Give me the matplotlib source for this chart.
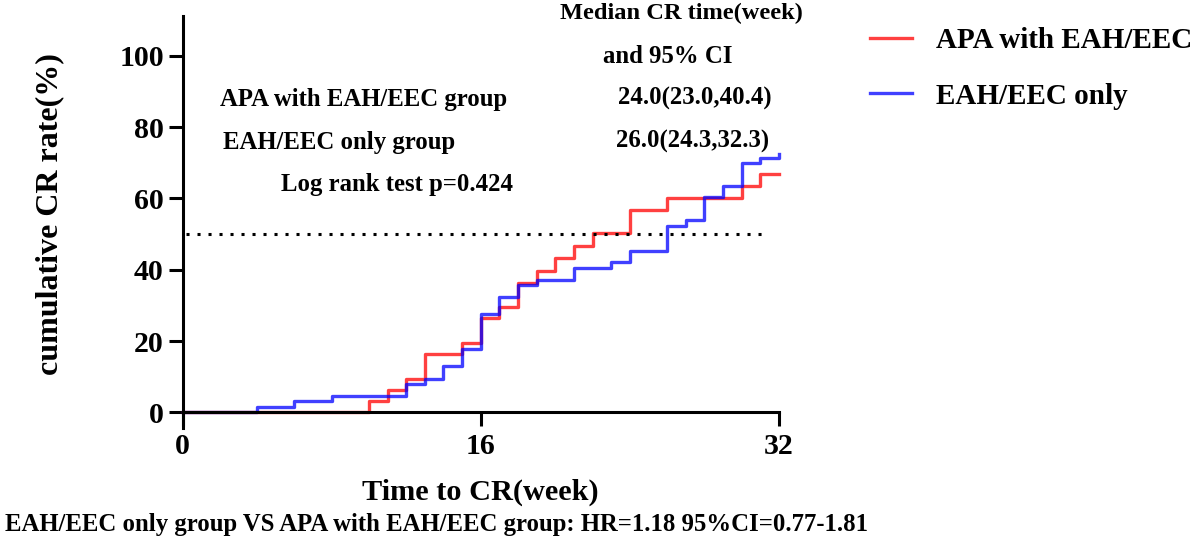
import matplotlib
matplotlib.use('Agg')
import matplotlib.pyplot as plt

plt.rcParams['font.family'] = ['Liberation Serif', 'DejaVu Serif']
plt.rcParams['font.weight'] = 'bold'

# (week, cumulative CR %)
apa_weeks = [0, 10, 11, 12, 13, 15, 16, 17, 18, 19, 20, 21, 22, 24, 26, 30, 31, 32]
apa_rate = [0, 3.2, 6.3, 9.3, 16.3, 19.5, 26.4, 29.6, 36.2, 39.7, 43.2, 46.6,
            50.2, 56.7, 60.0, 63.5, 67.0, 67.0]

only_weeks = [0, 4, 6, 8, 12, 13, 14, 15, 16, 17, 18, 19, 21, 23, 24, 26, 27,
              28, 29, 30, 31, 32]
only_rate = [0, 1.5, 3.1, 4.7, 7.9, 9.3, 13.0, 17.7, 27.6, 32.4, 35.7, 37.1,
             40.6, 42.2, 45.2, 52.3, 53.9, 60.3, 63.6, 70.0, 71.3, 72.6]

median_level = 50
median_span = (0.2, 31.4)

x_ticks = [0, 16, 32]
y_ticks = [0, 20, 40, 60, 80, 100]

W, H = 1197, 541
fig = plt.figure(figsize=(W / 100, H / 100), dpi=100)
ax = fig.add_axes([182.5 / W, (H - 428) / H, (779 - 182.5) / W, (428 - 16) / H])

ax.plot(apa_weeks, apa_rate, drawstyle='steps-post', color='#FF0000', alpha=0.75,
        lw=2.4, label='APA with EAH/EEC', clip_on=False)
ax.plot(only_weeks, only_rate, drawstyle='steps-post', color='#0000FF', alpha=0.75,
        lw=2.4, label='EAH/EEC only', clip_on=False)
ax.hlines(median_level, *median_span, colors='black', lw=2.2,
          linestyles=(0, (1, 2.6)))

ax.set_xlim(0, 32)
ax.set_ylim(-4.4, 111.2)
ax.set_xticks(x_ticks)
ax.set_yticks(y_ticks)
ax.spines['top'].set_visible(False)
ax.spines['right'].set_visible(False)
ax.spines['bottom'].set_position(('data', 0))
for s in ['left', 'bottom']:
    ax.spines[s].set_linewidth(2.2)
ax.tick_params(axis='both', direction='out', length=10, width=2.2, labelsize=21.5)
ax.tick_params(axis='y', pad=3.5)
ax.tick_params(axis='x', pad=5)

ax.set_xlabel('Time to CR(week)', fontsize=21.8, fontweight='bold', labelpad=13)
fig.text(50 / W, 1 - 214 / H, 'cumulative CR rate(%)', rotation=90, fontsize=23,
         fontweight='bold', ha='center', va='center')

# annotation block
def ftext(px, py, s, size=17.8):
    fig.text(px / W, 1 - py / H, s, fontsize=size, fontweight='bold',
             ha='left', va='baseline')

ftext(560, 19.3, 'Median CR time(week)', 17.6)
ftext(603, 62.7, 'and 95% CI')
ftext(220, 106, 'APA with EAH/EEC group')
ftext(618, 105, '24.0(23.0,40.4)')
ftext(223, 148.7, 'EAH/EEC only group')
ftext(616, 147.5, '26.0(24.3,32.3)')
ftext(281, 191, 'Log rank test p=0.424')
ftext(5, 531, 'EAH/EEC only group VS APA with EAH/EEC group: HR=1.18 95%CI=0.77-1.81')

leg = fig.legend(loc='upper left', bbox_to_anchor=(870 / W, 1 - 27 / H),
                 frameon=False, fontsize=21, handlelength=1.45,
                 handletextpad=0.8, labelspacing=0.98, borderpad=0,
                 borderaxespad=0)
for line in leg.get_lines():
    line.set_alpha(0.75)
    line.set_linewidth(2.4)

fig.savefig('out.png', dpi=100)
